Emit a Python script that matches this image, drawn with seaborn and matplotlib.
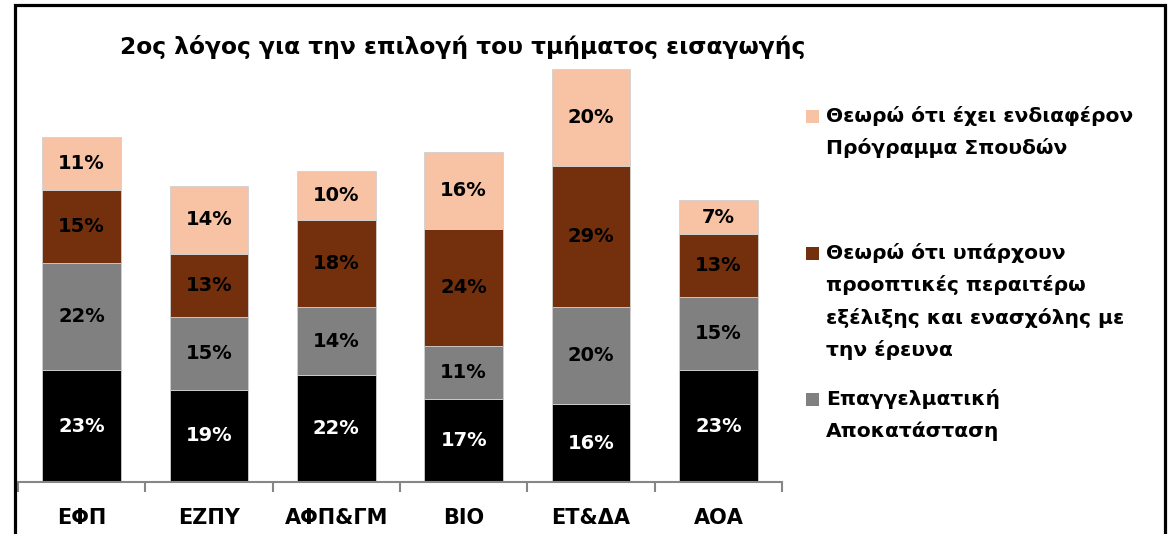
import matplotlib
matplotlib.use("Agg")
import matplotlib.pyplot as plt
import seaborn as sns
import numpy as np
from matplotlib.patches import Rectangle

categories = ["ΕΦΠ", "ΕΖΠΥ", "ΑΦΠ&ΓΜ", "ΒΙΟ", "ΕΤ&ΔΑ", "ΑΟΑ"]
black_vals = [23, 19, 22, 17, 16, 23]
gray_vals = [22, 15, 14, 11, 20, 15]
brown_vals = [15, 13, 18, 24, 29, 13]
peach_vals = [11, 14, 10, 16, 20, 7]

series_names = [
    "",
    "Επαγγελματική\nΑποκατάσταση",
    "Θεωρώ ότι υπάρχουν\nπροοπτικές περαιτέρω\nεξέλιξης και ενασχόλης με\nτην έρευνα",
    "Θεωρώ ότι έχει ενδιαφέρον\nΠρόγραμμα Σπουδών",
]
title = "2ος λόγος για την επιλογή του τμήματος εισαγωγής"

colors = ["#000000", "#808080", "#74300C", "#F8C3A5"]
label_colors = ["white", "black", "black", "black"]

sns.set_style("white")
plt.rcParams["font.family"] = ["DejaVu Sans"]
plt.rcParams["font.weight"] = "bold"
plt.rcParams["text.color"] = "black"
plt.rcParams["xtick.color"] = "black"

W, H = 1171, 534
fig = plt.figure(figsize=(W / 100, H / 100), dpi=100)
ax = fig.add_axes([18 / W, 1 - 482 / H, (782 - 18) / W, (482 - 52) / H])

all_vals = [black_vals, gray_vals, brown_vals, peach_vals]
bottom = np.zeros(len(categories))
for vals, col, lc in zip(all_vals, colors, label_colors):
    sns.barplot(x=categories, y=vals, bottom=bottom, color=col, saturation=1,
                width=0.62, edgecolor="#D0D0D0", linewidth=0.6, ax=ax)
    cont = ax.containers[-1]
    ax.bar_label(cont, labels=[f"{v}%" for v in vals], label_type="center",
                 color=lc, fontsize=14, fontweight="bold")
    bottom = bottom + np.array(vals)

ax.set_ylim(0, 88.5)
ax.set_xlim(-0.5, len(categories) - 0.5)
for s in ["left", "right", "top"]:
    ax.spines[s].set_visible(False)
ax.spines["bottom"].set_color("#868686")
ax.spines["bottom"].set_linewidth(1.5)
ax.set_yticks([])
ax.set_xticks(np.arange(-0.5, len(categories)), minor=True)
ax.tick_params(axis="x", which="minor", bottom=True, length=7.5, width=1.5,
               color="#868686", direction="out")
ax.tick_params(axis="x", which="major", bottom=False, length=0, pad=19,
               labelsize=15, labelcolor="black")
for t in ax.get_xticklabels():
    t.set_fontweight("bold")
ax.set_xlabel("")
ax.set_ylabel("")

fig.text(463 / W, 1 - 47 / H, title, ha="center", va="center", fontsize=16.8,
         fontweight="bold", color="black")

# legend (manual, Excel-like spacing)
legend_items = [(3, 116), (2, 253), (1, 399)]
for idx, yc in legend_items:
    fig.add_artist(Rectangle((806 / W, 1 - (yc + 7) / H), 13 / W, 13 / H,
                             transform=fig.transFigure, facecolor=colors[idx],
                             edgecolor="none"))
    fig.text(826 / W, 1 - (yc - 10) / H, series_names[idx], ha="left", va="top",
             fontsize=14.6, fontweight="bold", linespacing=1.78, color="black")

# outer frame
fig.add_artist(Rectangle((15 / W, -0.1), (1165 - 15) / W, 1.1 - 5 / H,
                         transform=fig.transFigure, fill=False, lw=2.3,
                         edgecolor="black", clip_on=False))

fig.savefig("out.png", dpi=100)
